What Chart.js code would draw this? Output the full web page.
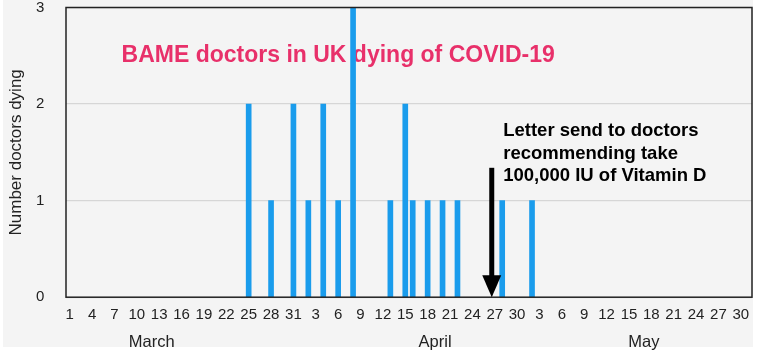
<!DOCTYPE html>
<html>
<head>
<meta charset="utf-8">
<script src="https://cdn.jsdelivr.net/npm/chart.js@4"></script>
<style>
  html, body { margin: 0; padding: 0; background: #ffffff; }
  #wrap { width: 764px; height: 355px; }
</style>
</head>
<body>
<div id="wrap"><canvas id="myChart" width="764" height="355"></canvas></div>
<script>
// months shown on the axis and their lengths
const months = ['March', 'April', 'May'];
const monthLengths = [31, 30, 31];

// deaths: [month index, day of month] and count
const deathDates = [[0,25],[0,28],[0,31],[1,2],[1,4],[1,6],[1,8],[1,13],[1,15],[1,16],[1,18],[1,20],[1,22],[1,28],[2,2]];
const deaths = [2, 1, 2, 1, 2, 1, 3, 1, 2, 1, 1, 1, 1, 1, 1];

const yTicks = [0, 1, 2, 3];
const letterDate = [1, 27];

const titleText = 'BAME doctors in UK dying of COVID-19';
const yTitle = 'Number doctors dying';
const noteLines = ['Letter send to doctors', 'recommending take', '100,000 IU of Vitamin D'];

// one category per day
const labels = [];
monthLengths.forEach(n => {
  for (let d = 1; d <= n; d++) labels.push(String(d));
});
function dayIndex(md){
  let idx = 0;
  for (let m = 0; m < md[0]; m++) idx += monthLengths[m];
  return idx + md[1] - 1;
}
const values = labels.map(() => null);
deathDates.forEach((md, i) => { values[dayIndex(md)] = deaths[i]; });

// month name sits under the middle of its tick run
const monthLabelAt = {11: 0, 49: 1, 77: 2};

const FONT = 'Arial, "Liberation Sans", Helvetica, sans-serif';

const decor = {
  id: 'decor',
  beforeDraw(chart){
    const ctx = chart.ctx;
    ctx.save();
    ctx.fillStyle = '#ffffff';
    ctx.fillRect(0, 0, chart.width, chart.height);
    ctx.fillStyle = '#f4f4f4';
    ctx.fillRect(3, 0, 750, 347);
    ctx.restore();
  },
  beforeDatasetsDraw(chart){
    const {ctx, chartArea:a, scales:{x, y}} = chart;
    ctx.save();
    ctx.font = 'bold 23px ' + FONT;
    ctx.fillStyle = '#e8306a';
    ctx.textAlign = 'center';
    ctx.textBaseline = 'middle';
    ctx.fillText(titleText, x.getPixelForValue(36), y.getPixelForValue(2.5));
    // y axis title
    ctx.translate(16, (a.top + a.bottom) / 2);
    ctx.rotate(-Math.PI / 2);
    ctx.font = '17px ' + FONT;
    ctx.fillStyle = '#222222';
    ctx.fillText(yTitle, 0, 0);
    ctx.restore();
  },
  afterDatasetsDraw(chart){
    const {ctx, chartArea:a, scales:{x, y}} = chart;
    ctx.save();
    // frame
    ctx.strokeStyle = '#222222';
    ctx.lineWidth = 1.5;
    ctx.strokeRect(a.left, a.top, a.right - a.left, a.bottom - a.top);
    // arrow
    const ax = x.getPixelForValue(dayIndex(letterDate)) - 3;
    const top = y.getPixelForValue(1.34);
    const base = y.getPixelForValue(0);
    ctx.fillStyle = '#000000';
    ctx.fillRect(ax - 2.5, top, 5, base - 21 - top);
    ctx.beginPath();
    ctx.moveTo(ax - 9.5, base - 22);
    ctx.lineTo(ax + 9.5, base - 22);
    ctx.lineTo(ax, base);
    ctx.closePath();
    ctx.fill();
    // note
    ctx.font = 'bold 18.5px ' + FONT;
    ctx.textAlign = 'left';
    ctx.textBaseline = 'middle';
    const nx = x.getPixelForValue(dayIndex([1,28])) + 1;
    noteLines.forEach((t, i) => {
      ctx.fillText(t, nx, y.getPixelForValue(1.72) + i * 22.5);
    });
    ctx.restore();
  }
};

new Chart(document.getElementById('myChart').getContext('2d'), {
  type: 'bar',
  data: {
    labels,
    datasets: [{
      label: yTitle,
      data: values,
      backgroundColor: '#1a9cec',
      barThickness: 5,
      grouped: false
    }]
  },
  options: {
    responsive: false,
    animation: false,
    layout: { padding: { top: 0, right: 12, left: 36, bottom: 3 } },
    plugins: { legend: { display: false }, tooltip: { enabled: false } },
    scales: {
      x: {
        offset: true,
        grid: { display: false, drawTicks: false },
        border: { display: false },
        ticks: {
          autoSkip: false, maxRotation: 0, padding: 10,
          color: '#222222', font: { family: FONT, size: 15, lineHeight: 1 },
          callback: (v, i) => i % 3 === 0 ? labels[i] : ''
        }
      },
      x2: {
        type: 'category',
        labels,
        position: 'bottom',
        offset: true,
        grid: { display: false, drawTicks: false },
        border: { display: false },
        ticks: {
          autoSkip: false, maxRotation: 0, padding: 0,
          color: '#222222', font: { family: FONT, size: 16.5 },
          callback: (v, i) => (i in monthLabelAt) ? months[monthLabelAt[i]] : ''
        }
      },
      y: {
        min: yTicks[0],
        max: yTicks[yTicks.length - 1],
        afterBuildTicks: s => { s.ticks = yTicks.map(v => ({value: v})); },
        afterFit: s => { s.width = 30; },
        grid: { color: '#d6d6d6', drawTicks: false, lineWidth: 1.2 },
        border: { display: false },
        ticks: { padding: 0, crossAlign: 'far', color: '#222222', font: { family: FONT, size: 15, lineHeight: 1 } }
      }
    }
  },
  plugins: [decor]
});
</script>
</body>
</html>
